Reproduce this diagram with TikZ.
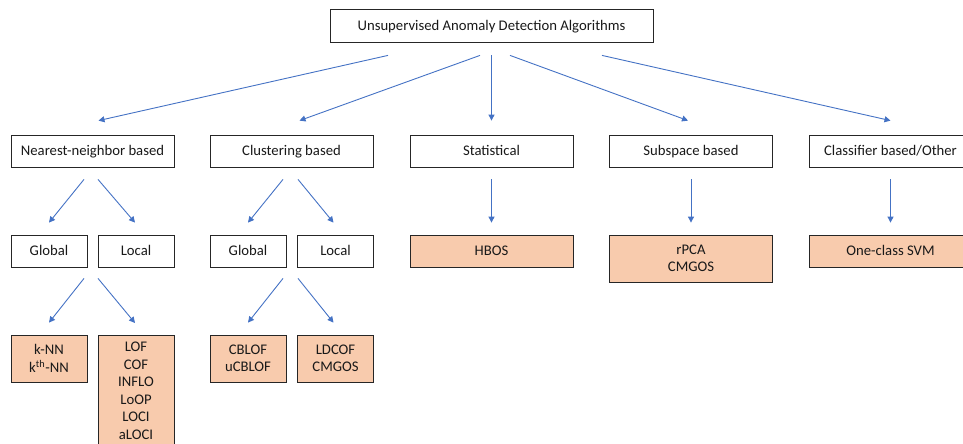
\documentclass[tikz,border=0pt]{standalone}
\usepackage{fontspec}
\setmainfont{Carlito}
\usetikzlibrary{arrows.meta,calc}
\definecolor{arrowblue}{HTML}{4472C4}
\definecolor{algofill}{HTML}{F8CBAD}
\definecolor{boxline}{HTML}{262626}
\tikzset{
  box/.style={draw=boxline, line width=0.8pt, fill=white, align=center,
    inner sep=2pt, font=\fontsize{14.7}{17.5}\selectfont, text=black!90},
  oneline/.style={text height=12pt, text depth=2.6pt},
  cat/.style={box, oneline, minimum width=163pt, minimum height=32pt},
  sub/.style={box, oneline, minimum width=76pt, minimum height=32pt},
  algo/.style={box, fill=algofill},
  arr/.style={draw=arrowblue, line width=0.9pt, -{Triangle[length=6pt,width=6pt]}}
}
\begin{document}
\begin{tikzpicture}[x=1pt,y=-1pt]
\useasboundingbox (0,0) rectangle (963,444);

% root
\node[box, oneline, minimum width=323pt, minimum height=33pt] (root) at (491.5,25.5) {Unsupervised Anomaly Detection Algorithms};

% categories
\node[cat] (nn)   at (92.5,151)  {Nearest-neighbor based};
\node[cat] (clu)  at (291.5,151) {Clustering based};
\node[cat] (stat) at (491.5,151) {Statistical};
\node[cat] (subs) at (691,151)   {Subspace based};
\node[cat] (cls)  at (890.5,151) {Classifier based/Other};

% global / local split
\node[sub] (nng) at (49,251)    {Global};
\node[sub] (nnl) at (136,251)   {Local};
\node[sub] (clg) at (248,251)   {Global};
\node[sub] (cll) at (335.5,251) {Local};

% algorithms
\node[algo, oneline, minimum width=163pt, minimum height=32pt] (hbos) at (491.5,251) {HBOS};
\node[algo, minimum width=163pt, minimum height=47pt] (rpca) at (691,258.5) {rPCA\\CMGOS};
\node[algo, oneline, minimum width=163pt, minimum height=32pt] (ocsvm) at (890.5,251) {One-class SVM};

\node[algo, minimum width=76pt, minimum height=47pt] (knn) at (49,358.5) {k-NN\\k\textsuperscript{th}-NN};
\node[algo, minimum width=76pt, minimum height=111pt, anchor=north] (lof) at (136,335)
  {LOF\\COF\\INFLO\\LoOP\\LOCI\\aLOCI};
\node[algo, minimum width=76pt, minimum height=47pt] (cblof) at (248,358.5) {CBLOF\\uCBLOF};
\node[algo, minimum width=76pt, minimum height=47pt] (ldcof) at (335.5,358.5) {LDCOF\\CMGOS};

% root to categories
\draw[arr] ($(root.south)+(-103.5,13)$) -- ($(nn.north)+(6,-14)$);
\draw[arr] ($(root.south)+(-11.5,13)$)  -- ($(clu.north)+(8,-14)$);
\draw[arr] ($(root.south)+(0,13)$)      -- ($(stat.north)+(0,-14)$);
\draw[arr] ($(root.south)+(18.5,13)$)   -- ($(subs.north)+(-3,-14)$);
\draw[arr] ($(root.south)+(110.5,13)$)  -- ($(cls.north)+(0,-14)$);

% nearest-neighbor branch
\draw[arr] ($(nn.south)+(-8.5,12)$) -- ($(nng.north)+(0,-12)$);
\draw[arr] ($(nn.south)+(5.5,12)$)  -- ($(nnl.north)+(-1,-12)$);
\draw[arr] ($(nng.south)+(35,11)$) -- ($(knn.north)+(0,-12)$);
\draw[arr] ($(nnl.south)+(-38,11)$) -- ($(lof.north)+(-1,-12)$);

% clustering branch
\draw[arr] ($(clu.south)+(-8.5,12)$) -- ($(clg.north)+(0,-12)$);
\draw[arr] ($(clu.south)+(6.5,12)$)  -- ($(cll.north)+(-2,-12)$);
\draw[arr] ($(clg.south)+(35,11)$)  -- ($(cblof.north)+(0,-12)$);
\draw[arr] ($(cll.south)+(-37.5,11)$) -- ($(ldcof.north)+(-2,-12)$);

% single-path branches
\draw[arr] ($(stat.south)+(0,12)$) -- ($(hbos.north)+(0,-12)$);
\draw[arr] ($(subs.south)+(0,12)$) -- ($(rpca.north)+(0,-12)$);
\draw[arr] ($(cls.south)+(0,12)$)  -- ($(ocsvm.north)+(0,-12)$);
\end{tikzpicture}
\end{document}
